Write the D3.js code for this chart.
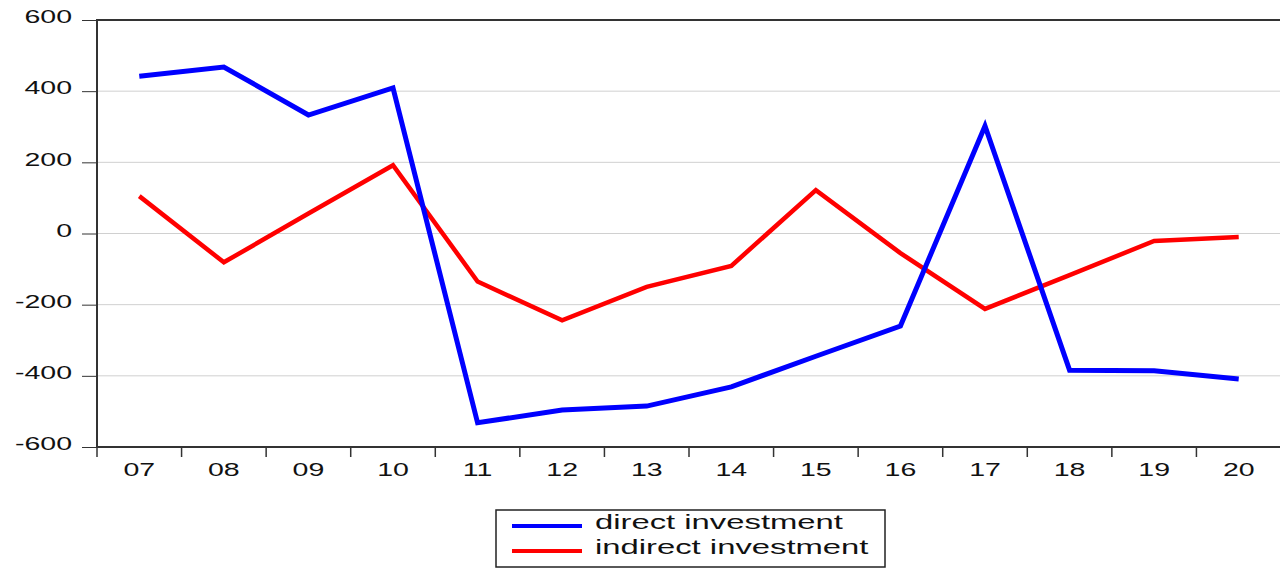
<!doctype html>
<html>
<head>
<meta charset="utf-8">
<script src="https://cdn.jsdelivr.net/npm/d3@7"></script>
<style>
  body { margin: 0; background: #fff; }
  text { font-family: "Liberation Sans", Arial, sans-serif; }
</style>
</head>
<body>
<svg width="1280" height="570"></svg>
<script>
// years on the x axis
var years = ["07","08","09","10","11","12","13","14","15","16","17","18","19","20"];
var direct = [442, 468, 333, 409, -532, -496, -485, -431, -345, -260, 302, -384, -386, -409];
var indirect = [105, -81, 56, 192, -135, -244, -150, -91, 122, -55, -212, -117, -21, -10];
var yTicks = [-600, -400, -200, 0, 200, 400, 600];

var svg = d3.select("svg");
var plotLeft = 97, plotTop = 20, plotBottom = 447, plotRight = 1281;

var x = d3.scaleBand().domain(years).range([plotLeft, plotRight]);
var y = d3.scaleLinear().domain([-600, 600]).range([plotBottom, plotTop]);

// the reference font is stretched sideways
function stretch(sel, k) {
  k = k || 1.5;
  sel.each(function() {
    var w = this.getComputedTextLength();
    d3.select(this).attr("textLength", w * k).attr("lengthAdjust", "spacingAndGlyphs");
  });
}

// grid lines
svg.append("g").selectAll("line")
  .data(yTicks.filter(function(d) { return d > -600 && d < 600; }))
  .enter().append("line")
  .attr("x1", plotLeft).attr("x2", plotRight)
  .attr("y1", function(d) { return y(d); })
  .attr("y2", function(d) { return y(d); })
  .style("stroke", "#d0d0d0").style("stroke-width", 1);

// y axis
var yAxis = svg.append("g")
  .attr("transform", "translate(" + plotLeft + ",0)")
  .call(d3.axisLeft(y).tickValues(yTicks).tickSize(15).tickPadding(10)
    .tickFormat(function(d) { return String(d); }));
yAxis.select(".domain").remove();
yAxis.selectAll(".tick line").style("stroke", "#333");
yAxis.selectAll("text").attr("dy", "0.14em").style("font-size", "19px").style("fill", "#111")
  .call(stretch);

// x axis (ticks at the band edges)
var xAxis = svg.append("g")
  .attr("transform", "translate(0," + plotBottom + ")")
  .call(d3.axisBottom(x).tickSize(0).tickPadding(15.5));
xAxis.select(".domain").remove();
xAxis.selectAll("text").style("font-size", "19px").style("fill", "#111").call(stretch);
svg.append("g").selectAll("line")
  .data(years)
  .enter().append("line")
  .attr("x1", function(d) { return x(d); })
  .attr("x2", function(d) { return x(d); })
  .attr("y1", plotBottom).attr("y2", plotBottom + 10)
  .style("stroke", "#333").style("stroke-width", 1.5);

// frame
svg.append("path")
  .attr("d", "M" + plotRight + "," + plotTop + "H" + plotLeft + "V" + plotBottom + "H" + plotRight)
  .style("fill", "none").style("stroke", "#333").style("stroke-width", 2);

var line = d3.line()
  .x(function(d, i) { return x(years[i]) + x.bandwidth() / 2; })
  .y(function(d) { return y(d); });

svg.append("path").datum(indirect)
  .attr("d", line)
  .style("fill", "none").style("stroke", "#ff0000").style("stroke-width", 4.5);

svg.append("path").datum(direct)
  .attr("d", line)
  .style("fill", "none").style("stroke", "#0000ff").style("stroke-width", 5);

// legend
var legend = svg.append("g");
legend.append("rect")
  .attr("x", 496).attr("y", 510).attr("width", 389).attr("height", 57)
  .style("fill", "#fff").style("stroke", "#222").style("stroke-width", 1.5);
var items = [["direct investment", "#0000ff"], ["indirect investment", "#ff0000"]];
items.forEach(function(it, i) {
  var yy = 526 + i * 25;
  legend.append("line")
    .attr("x1", 512).attr("x2", 582).attr("y1", yy).attr("y2", yy)
    .style("stroke", it[1]).style("stroke-width", 4);
  legend.append("text")
    .attr("x", 595).attr("y", yy + 3)
    .style("font-size", "20px").style("fill", "#111")
    .text(it[0])
    .call(stretch, 1.64);
});
</script>
</body>
</html>
